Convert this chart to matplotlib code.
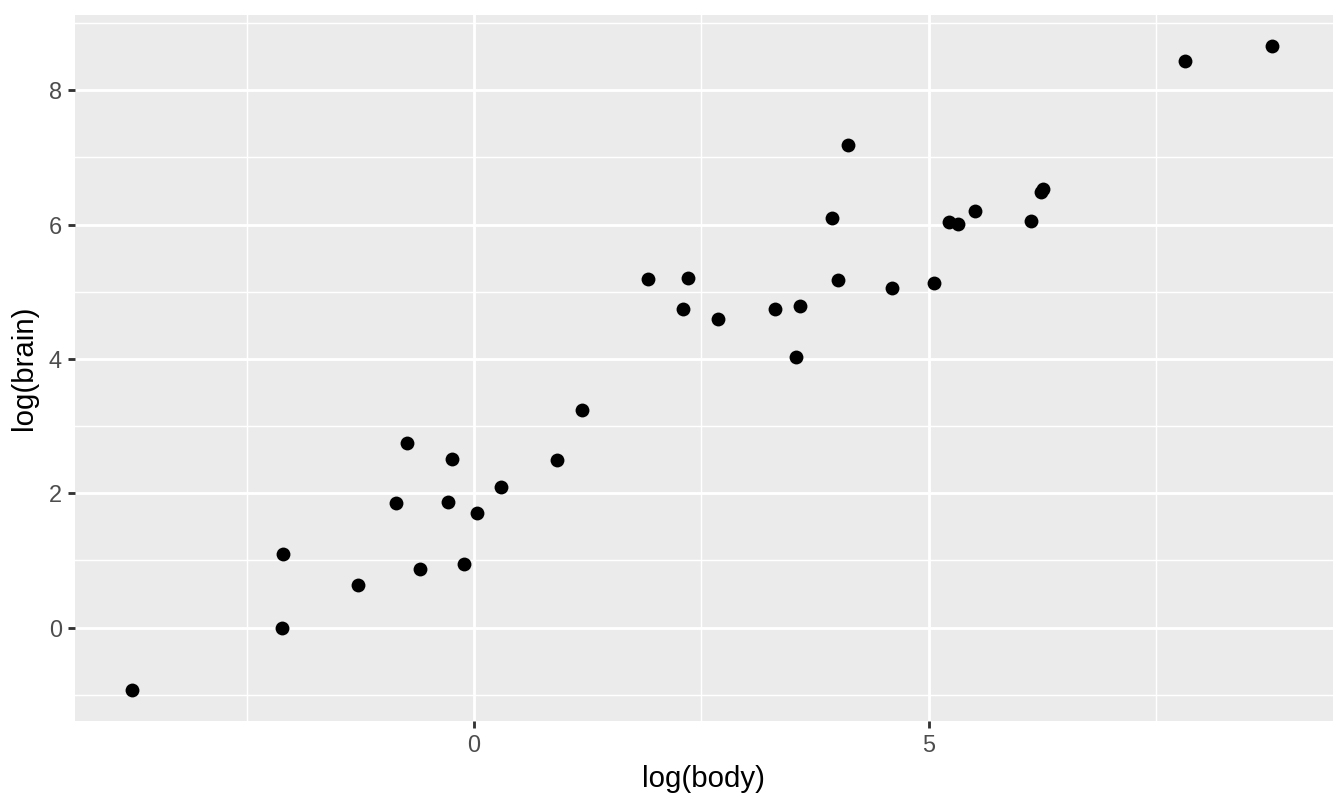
import matplotlib
matplotlib.use("Agg")
import matplotlib.pyplot as plt
import numpy as np

plt.rcParams['font.family'] = ['Liberation Sans', 'DejaVu Sans']

# log(body), log(brain)
log_body = [-3.758, -2.110, -2.099, -1.275, -0.857, -0.736, -0.593, -0.286,
            -0.242, -0.110, 0.033, 0.297, 0.912, 1.187, 1.912, 2.297,
            2.352, 2.681, 3.308, 3.538, 3.582, 3.934, 4.000, 4.110,
            4.593, 5.055, 5.215, 5.317, 5.505, 6.121, 6.232, 6.248,
            7.813, 8.769]
log_brain = [-0.922, 0.000, 1.100, 0.639, 1.859, 2.751, 0.877, 1.874,
             2.513, 0.952, 1.710, 2.097, 2.498, 3.242, 5.190, 4.743,
             5.204, 4.595, 4.743, 4.030, 4.788, 6.097, 5.175, 7.182,
             5.056, 5.130, 6.042, 6.007, 6.201, 6.052, 6.491, 6.527,
             8.431, 8.654]

x_major = [0, 5]
x_minor = [-2.5, 2.5, 7.5]
y_major = [0, 2, 4, 6, 8]
y_minor = [-1, 1, 3, 5, 7, 9]

fig = plt.figure(figsize=(7, 4.198), dpi=192)
ax = fig.add_axes([75 / 1344, 1 - 721 / 806, (1333 - 75) / 1344, (721 - 15) / 806])
ax.set_facecolor("#EBEBEB")

# limits matching the reference panel
ax.set_xlim(-4.385, 9.44)
ax.set_ylim(-1.39, 9.12)

for v in x_minor:
    ax.axvline(v, color="white", lw=0.53, zorder=1)
for v in y_minor:
    ax.axhline(v, color="white", lw=0.53, zorder=1)
for v in x_major:
    ax.axvline(v, color="white", lw=1.07, zorder=1)
for v in y_major:
    ax.axhline(v, color="white", lw=1.07, zorder=1)

ax.scatter(log_body, log_brain, s=27, color="black", linewidths=0, zorder=3)

ax.set_xticks(x_major)
ax.set_yticks(y_major)
ax.tick_params(length=2.75, width=1.07, color="#333333", labelsize=8.8,
               labelcolor="#4D4D4D", pad=2.2)
for s in ax.spines.values():
    s.set_visible(False)

ax.set_xlabel("log(body)", fontsize=11, color="black", labelpad=3)
ax.set_ylabel("log(brain)", fontsize=11, color="black", labelpad=4)

fig.savefig("out.png", dpi=192)
